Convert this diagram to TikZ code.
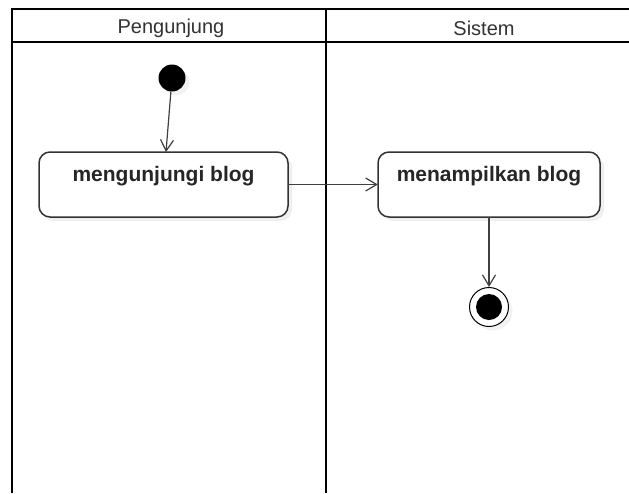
\documentclass[tikz,border=0pt]{standalone}
\usepackage{fontspec}
\setmainfont{Liberation Sans}
\usetikzlibrary{arrows.meta,shadows}
\begin{document}
\begin{tikzpicture}[x=1pt,y=-1pt,
  lane/.style={line width=2.4pt,black},
  lanetitle/.style={text=black!80,font=\fontsize{20}{24}\selectfont},
  action/.style={draw=black!80,line width=1.5pt,rounded corners=11pt,fill=white,
    drop shadow={opacity=0.12,shadow xshift=4pt,shadow yshift=-4pt}},
  actlabel/.style={text=black!85,font=\bfseries\fontsize{21}{25}\selectfont},
  flow/.style={draw=black!75,line width=1.2pt,-{Straight Barb[length=11pt,width=13pt,line width=1.2pt]}},
  startnode/.style={circle,fill=black,minimum size=27pt,inner sep=0pt,
    drop shadow={opacity=0.1,shadow xshift=4pt,shadow yshift=-4pt}},
  endnode/.style={circle,draw=black,line width=1pt,fill=white,minimum size=39pt,inner sep=0pt,
    drop shadow={opacity=0.1,shadow xshift=4pt,shadow yshift=-4pt}},
  endcore/.style={circle,fill=black,minimum size=26pt,inner sep=0pt}]
  \useasboundingbox (0,0) rectangle (629,493);
  \fill[white] (0,0) rectangle (629,493);

  % swimlane frame
  \draw[lane] (12,493) -- (12,9) -- (629,9);
  \draw[lane] (12,42) -- (629,42);
  \draw[lane] (326,9) -- (326,493);
  \node[lanetitle] (laneA) at (171,28.5) {Pengunjung};
  \node[lanetitle] (laneB) at (484,28.5) {Sistem};

  % actions
  \draw[action] (39,152) rectangle (288,217);
  \node[actlabel] (t1) at (163.5,176) {mengunjungi blog};
  \node[inner sep=0pt,minimum width=249pt,minimum height=65pt] (box1) at (163.5,184.5) {};

  \draw[action] (378,152) rectangle (600,217);
  \node[actlabel] (t2) at (489,176) {menampilkan blog};
  \node[inner sep=0pt,minimum width=222pt,minimum height=65pt] (box2) at (489,184.5) {};

  % initial and final states
  \node[startnode] (start) at (172,78) {};
  \node[endnode] (final) at (489,307) {};
  \node[endcore] (finalcore) at (489,307) {};

  % control flows
  \coordinate (in1) at (166,152);
  \draw[flow] (start) -- (in1);
  \draw[flow] (box1.east) -- (box2.west);
  \draw[flow] (box2.south) -- (final.north);
\end{tikzpicture}
\end{document}
